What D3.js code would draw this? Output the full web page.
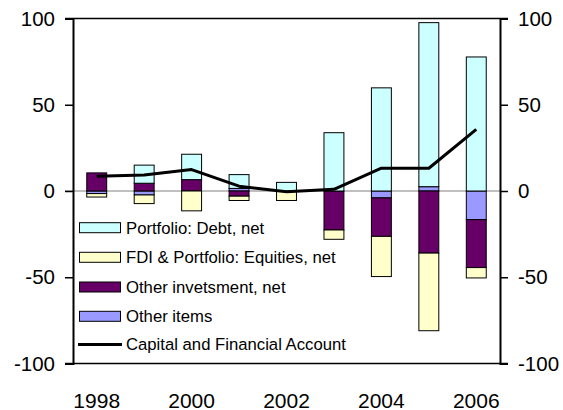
<!DOCTYPE html>
<html>
<head>
<meta charset="utf-8">
<script src="https://cdn.jsdelivr.net/npm/d3@7"></script>
<style>
    body { margin: 0; background: #fff; }
    text { font-family: Arial, "Liberation Sans", sans-serif; fill: #000; }
</style>
</head>
<body>
<div id="chart"></div>
<script>
const years = [1998, 1999, 2000, 2001, 2002, 2003, 2004, 2005, 2006];
const yearLabels = [1998, 2000, 2002, 2004, 2006];
const yTicks = [-100, -50, 0, 50, 100];

// series values
const portfolioDebt = [0, 10.5, 14.7, 8, 5, 33.8, 59.8, 95.1, 77.7];
const fdiEquities = [-2, -5, -11.5, -2.5, -5.5, -5.4, -23.3, -45, -6];
const otherInvestment = [10.5, 4.5, 6.6, -3, 0, -22.6, -22.3, -36, -27.8];
const otherItems = [-1.5, -2.3, 0, 1.5, 0, 0, -4, 2.5, -16.6];
const capitalAccount = [8.6, 9.3, 12.4, 2.8, -0.5, 1, 13.2, 13.2, 35.7];

const series = [
    {key: "debt", name: "Portfolio: Debt, net", values: portfolioDebt, color: "#CCFFFF"},
    {key: "fdi", name: "FDI & Portfolio: Equities, net", values: fdiEquities, color: "#FFFFCC"},
    {key: "inv", name: "Other invetsment, net", values: otherInvestment, color: "#660066"},
    {key: "items", name: "Other items", values: otherItems, color: "#9999FF"}
];
const lineName = "Capital and Financial Account";

// stacking goes outward from zero in this order
const stackOrder = ["items", "inv", "fdi", "debt"];

function buildRows() {
    return years.map((y, i) => {
        const row = {year: y};
        series.forEach(s => { row[s.key] = s.values[i]; });
        return row;
    });
}

function draw() {
    const width = 563, height = 410;
    const left = 73, right = 500, top = 18.5, bottom = 363.5;

    const svg = d3.select("#chart").append("svg")
        .attr("width", width)
        .attr("height", height);

    const x = d3.scaleBand()
        .domain(years)
        .range([left, right])
        .paddingInner(0.58)
        .paddingOuter(0.29);

    const y = d3.scaleLinear()
        .domain([-100, 100])
        .range([bottom, top]);

    const color = d3.scaleOrdinal()
        .domain(series.map(s => s.key))
        .range(series.map(s => s.color));

    const rows = buildRows();
    const stacked = d3.stack()
        .keys(stackOrder)
        .offset(d3.stackOffsetDiverging)(rows);

    // zero line
    svg.append("line")
        .attr("x1", left - 8).attr("x2", right)
        .attr("y1", y(0)).attr("y2", y(0))
        .attr("stroke", "#808080")
        .attr("stroke-width", 1);

    // bars
    svg.append("g")
        .selectAll("g")
        .data(stacked)
        .join("g")
            .attr("fill", d => color(d.key))
        .selectAll("rect")
        .data(d => d.filter(p => p[1] !== p[0]))
        .join("rect")
            .attr("x", d => x(d.data.year))
            .attr("width", x.bandwidth())
            .attr("y", d => y(Math.max(d[0], d[1])))
            .attr("height", d => Math.abs(y(d[0]) - y(d[1])))
            .attr("stroke", "#000")
            .attr("stroke-width", 1);

    // capital & financial account line
    const line = d3.line()
        .x((d, i) => x(years[i]) + x.bandwidth() / 2)
        .y(d => y(d));
    svg.append("path")
        .datum(capitalAccount)
        .attr("fill", "none")
        .attr("stroke", "#000")
        .attr("stroke-width", 3)
        .attr("stroke-linejoin", "round")
        .attr("d", line);

    // top and bottom frame lines
    [top, bottom].forEach(v => {
        svg.append("line")
            .attr("x1", left - 8).attr("x2", right + 8)
            .attr("y1", v).attr("y2", v)
            .attr("stroke", "#000")
            .attr("stroke-width", 1.5);
    });

    // left and right axes (plain hyphen for negatives, like the original)
    const fmt = d => String(d);
    const axisLeft = svg.append("g")
        .attr("transform", "translate(" + left + ",0)")
        .call(d3.axisLeft(y).tickValues(yTicks).tickFormat(fmt).tickSize(8).tickPadding(10));
    const axisRight = svg.append("g")
        .attr("transform", "translate(" + right + ",0)")
        .call(d3.axisRight(y).tickValues(yTicks).tickFormat(fmt).tickSize(8).tickPadding(10));
    [axisLeft, axisRight].forEach(a => {
        a.select(".domain").attr("stroke", "#000").attr("stroke-width", 2);
        a.selectAll(".tick line").attr("stroke", "#000").attr("stroke-width", 1.5);
        a.selectAll(".tick text")
            .style("font-size", "20.5px")
            .style("font-family", "Arial, 'Liberation Sans', sans-serif")
            .attr("fill", "#000");
    });

    // year labels
    svg.append("g")
        .selectAll("text")
        .data(yearLabels)
        .join("text")
            .attr("x", d => x(d) + x.bandwidth() / 2)
            .attr("y", 407.5)
            .attr("text-anchor", "middle")
            .style("font-size", "21px")
            .text(d => d);

    // legend
    const legendY = [227.7, 257.3, 287, 316.3, 344.5];
    const legend = svg.append("g");
    series.forEach((s, i) => {
        legend.append("rect")
            .attr("x", 79.5).attr("y", legendY[i] - 5)
            .attr("width", 41).attr("height", 10)
            .attr("fill", s.color)
            .attr("stroke", "#000")
            .attr("stroke-width", 1);
        legend.append("text")
            .attr("x", 126).attr("y", legendY[i])
            .attr("dy", "0.35em")
            .style("font-size", "16.7px")
            .text(s.name);
    });
    legend.append("line")
        .attr("x1", 78).attr("x2", 122)
        .attr("y1", legendY[4]).attr("y2", legendY[4])
        .attr("stroke", "#000")
        .attr("stroke-width", 3);
    legend.append("text")
        .attr("x", 126).attr("y", legendY[4])
        .attr("dy", "0.35em")
        .style("font-size", "16.7px")
        .text(lineName);
}

draw();
</script>
</body>
</html>
